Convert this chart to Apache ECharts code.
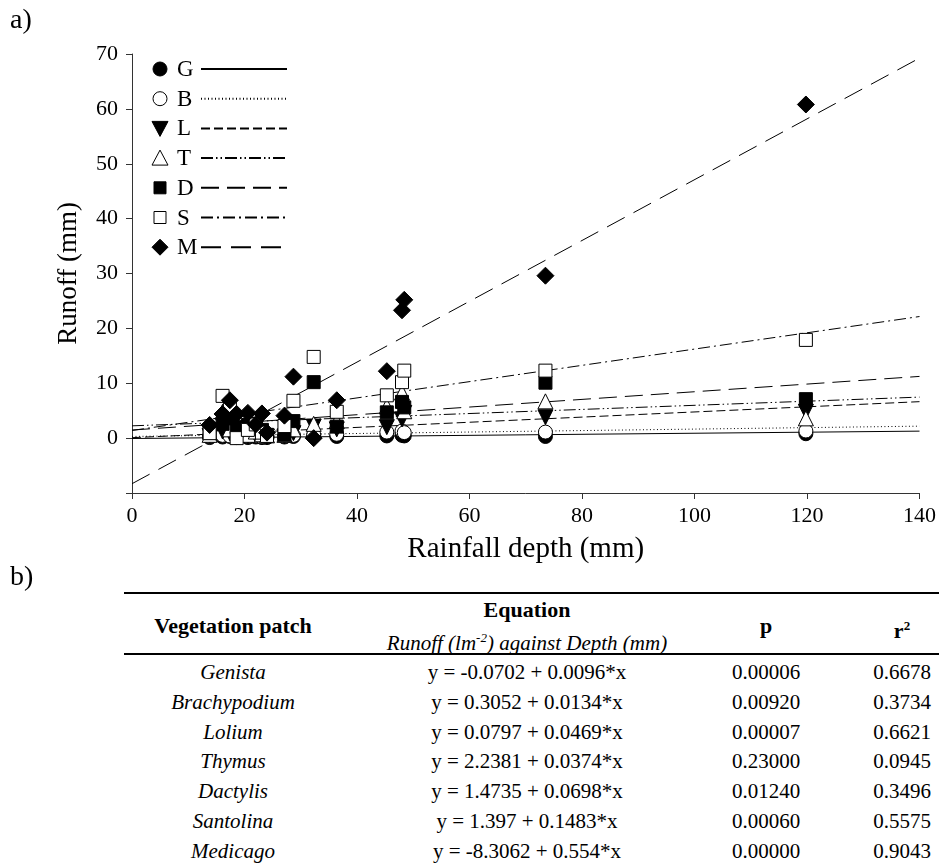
<!DOCTYPE html>
<html>
<head>
<meta charset="utf-8">
<script src="https://cdn.jsdelivr.net/npm/echarts@6/dist/echarts.min.js"></script>
<style>
  html, body { margin: 0; padding: 0; background: #fff; }
  #page { position: relative; width: 939px; height: 865px; overflow: hidden; font-family: "Liberation Serif", "Times New Roman", serif; color: #000; }
  #chart { position: absolute; left: 0; top: 0; width: 939px; height: 575px; }
  .cell { position: absolute; width: 340px; text-align: center; font-size: 20px; line-height: 24px; white-space: nowrap; }
  .rule { position: absolute; background: #000; }
  .panel { position: absolute; left: 10px; font-size: 28px; line-height: 30px; }
</style>
</head>
<body>
<div id="page">
  <div id="chart"></div>
  <div id="table"></div>
</div>
<script>
// Rainfall events (mm) and runoff (mm) per vegetation patch
const rainfall  = [13.8, 16.1, 17.4, 18.6, 20.6, 22.0, 23.1, 24.0, 27.1, 28.7, 32.3, 36.4, 45.3, 48.0, 48.4, 73.5, 119.8];
const genista   = [0.1, 0.2, 0.3, 0.1, 0.1, 0.2, 0.1, 0.1, 0.2, 0.3, 0.4, 0.3, 0.4, 0.5, 0.4, 0.3, 0.8];
const brachy    = [0.3, 0.5, 0.4, 0.2, 0.3, 0.4, 0.2, 0.3, 0.3, 0.5, 0.6, 0.7, 1.1, 1.3, 1.0, 1.1, 1.3];
const lolium    = [0.4, 1.2, 0.9, 0.5, 0.3, 0.8, 0.4, 0.3, 0.3, 0.9, 2.1, 1.6, 2.0, 3.4, 4.6, 3.8, 4.8];
const thymus    = [0.6, 4.8, 1.6, 1.0, 0.6, 1.2, 0.7, 0.5, 0.6, 1.6, 2.6, 3.1, 5.8, 8.3, 4.9, 6.7, 3.6];
const dactylis  = [1.0, 2.6, 3.6, 2.0, 2.4, 2.6, 1.5, 0.6, 0.6, 3.1, 10.2, 2.1, 4.7, 6.6, 5.6, 10.1, 7.1];
const santolina = [0.9, 7.7, 5.4, 0.0, 1.5, 2.5, 1.0, 0.4, 2.2, 6.8, 14.8, 4.8, 7.8, 10.2, 12.3, 12.3, 17.9];
const medicago  = [2.4, 4.4, 6.9, 4.4, 4.6, 2.5, 4.5, 1.0, 4.1, 11.2, 0.0, 6.9, 12.2, 23.3, 25.2, 29.6, 60.8];

// Regression table
const codes      = ['G', 'B', 'L', 'T', 'D', 'S', 'M'];
const patches    = ['Genista', 'Brachypodium', 'Lolium', 'Thymus', 'Dactylis', 'Santolina', 'Medicago'];
const intercepts = [-0.0702, 0.3052, 0.0797, 2.2381, 1.4735, 1.397, -8.3062];
const slopes     = [0.0096, 0.0134, 0.0469, 0.0374, 0.0698, 0.1483, 0.554];
const pValues    = ['0.00006', '0.00920', '0.00007', '0.23000', '0.01240', '0.00060', '0.00000'];
const r2Values   = [0.6678, 0.3734, 0.6621, 0.0945, 0.3496, 0.5575, 0.9043];

// Axis ticks
const xTicks = [0, 20, 40, 60, 80, 100, 120, 140];
const yTicks = [-10, 0, 10, 20, 30, 40, 50, 60, 70];

const runoff = [genista, brachy, lolium, thymus, dactylis, santolina, medicago];

// Marker and trend-line appearance for each patch
const styles = [
  { symbol: 'circle',   size: 14, rotate: 0,   filled: true,  dash: 'solid' },
  { symbol: 'circle',   size: 14, rotate: 0,   filled: false, dash: [1, 2.5] },
  { symbol: 'triangle', size: 15, rotate: 180, filled: true,  dash: [9, 4] },
  { symbol: 'triangle', size: 15, rotate: 0,   filled: false, dash: [12, 3, 1.5, 3, 1.5, 3] },
  { symbol: 'rect',     size: 13, rotate: 0,   filled: true,  dash: [18, 8] },
  { symbol: 'rect',     size: 13, rotate: 0,   filled: false, dash: [12, 4, 2, 4] },
  { symbol: 'diamond',  size: 17, rotate: 0,   filled: true,  dash: [20, 10] }
];

const FONT = '"Liberation Serif", "Times New Roman", serif';
const xMin = xTicks[0], xMax = xTicks[xTicks.length - 1];

const series = [];
codes.forEach((c, i) => {
  const a = intercepts[i], b = slopes[i];
  series.push({
    name: c + ' fit',
    type: 'line',
    data: [[xMin, a], [xMax, a + b * xMax]],
    showSymbol: false,
    symbol: 'none',
    silent: true,
    z: 3,
    lineStyle: { color: '#000', width: 1, type: styles[i].dash }
  });
});
codes.forEach((c, i) => {
  const st = styles[i];
  series.push({
    name: c,
    type: 'scatter',
    data: rainfall.map((d, j) => [d, runoff[i][j]]),
    symbol: st.symbol,
    symbolSize: st.size,
    symbolRotate: st.rotate,
    z: 4 + i,
    itemStyle: { color: st.filled ? '#000' : '#fff', borderColor: '#000', borderWidth: 1, opacity: 1 }
  });
});

// Legend drawn as marker + code + line sample
const graphic = [];
const lgX = 160, lgY0 = 69, lgStep = 29.7;
codes.forEach((c, i) => {
  const st = styles[i];
  const y = lgY0 + lgStep * i;
  const fill = st.filled ? '#000' : '#fff';
  const stroke = { fill: fill, stroke: '#000', lineWidth: 1 };
  if (st.symbol === 'circle') {
    graphic.push({ type: 'circle', shape: { cx: lgX, cy: y, r: 7 }, style: stroke });
  } else if (st.symbol === 'rect') {
    graphic.push({ type: 'rect', shape: { x: lgX - 6, y: y - 6, width: 12, height: 12 }, style: stroke });
  } else if (st.symbol === 'diamond') {
    graphic.push({ type: 'polygon', shape: { points: [[lgX, y - 8], [lgX + 8, y], [lgX, y + 8], [lgX - 8, y]] }, style: stroke });
  } else if (st.rotate === 180) {
    graphic.push({ type: 'polygon', shape: { points: [[lgX - 8, y - 7], [lgX + 8, y - 7], [lgX, y + 8]] }, style: stroke });
  } else {
    graphic.push({ type: 'polygon', shape: { points: [[lgX - 8, y + 7], [lgX + 8, y + 7], [lgX, y - 8]] }, style: stroke });
  }
  graphic.push({
    type: 'text', x: 177, y: y + 1,
    style: { text: c, font: '23px ' + FONT, fill: '#000', verticalAlign: 'middle', align: 'left' }
  });
  graphic.push({
    type: 'line',
    shape: { x1: 201, y1: y, x2: 287, y2: y },
    style: { stroke: '#000', lineWidth: 2, lineDash: st.dash === 'solid' ? null : st.dash }
  });
});

const chart = echarts.init(document.getElementById('chart'), null, { renderer: 'canvas' });
chart.setOption({
  animation: false,
  backgroundColor: '#fff',
  textStyle: { fontFamily: FONT },
  grid: { left: 132, right: 18, top: 54, bottom: 82, containLabel: false },
  xAxis: {
    type: 'value',
    min: xMin, max: xMax, interval: xTicks[1] - xTicks[0],
    name: 'Rainfall depth (mm)',
    nameLocation: 'middle', nameGap: 42,
    nameTextStyle: { fontFamily: FONT, fontSize: 29, color: '#000' },
    axisLine: { onZero: false, lineStyle: { color: '#333', width: 1 } },
    axisTick: { show: true, inside: false, length: 6, lineStyle: { color: '#333' } },
    axisLabel: { fontFamily: FONT, fontSize: 22, color: '#000', margin: 12 },
    splitLine: { show: false }
  },
  yAxis: {
    type: 'value',
    min: yTicks[0], max: yTicks[yTicks.length - 1], interval: yTicks[1] - yTicks[0],
    name: 'Runoff (mm)',
    nameLocation: 'middle', nameGap: 50,
    nameTextStyle: { fontFamily: FONT, fontSize: 27, color: '#000' },
    axisLine: { show: true, onZero: false, lineStyle: { color: '#333', width: 1 } },
    axisTick: { show: true, inside: false, length: 6, lineStyle: { color: '#333' } },
    axisLabel: {
      fontFamily: FONT, fontSize: 22, color: '#000', margin: 14,
      formatter: v => (v === yTicks[0] ? '' : String(v))
    },
    splitLine: { show: false }
  },
  graphic: graphic,
  series: series
});

// Panel labels and the regression table
const page = document.getElementById('page');
const tbl = document.getElementById('table');
function addCell(html, cx, cy, extra) {
  const d = document.createElement('div');
  d.className = 'cell';
  d.style.left = (cx - 170) + 'px';
  d.style.top = (cy - 12) + 'px';
  if (extra) Object.assign(d.style, extra);
  d.innerHTML = html;
  tbl.appendChild(d);
}
function addRule(y, h) {
  const r = document.createElement('div');
  r.className = 'rule';
  r.style.left = '124px'; r.style.width = '815px';
  r.style.top = y + 'px'; r.style.height = h + 'px';
  tbl.appendChild(r);
}
['a)', 'b)'].forEach((t, k) => {
  const d = document.createElement('div');
  d.className = 'panel';
  d.style.top = (k === 0 ? 4 : 561) + 'px';
  d.textContent = t;
  page.appendChild(d);
});

const colX = [233, 527, 766, 902];
const bold = { fontWeight: 'bold', fontSize: '22px' };
addRule(592, 2);
addRule(653, 2);
addCell('Vegetation patch', colX[0], 626, bold);
addCell('Equation', colX[1], 610, bold);
addCell('<i>Runoff (lm<sup style="font-size:13px">-2</sup>) against Depth (mm)</i>', colX[1], 638, { fontSize: '21px' });
addCell('p', colX[2], 626, bold);
addCell('r<sup style="font-size:13px">2</sup>', colX[3], 626, bold);

const rowY0 = 672, rowStep = 29.8;
patches.forEach((name, i) => {
  const y = rowY0 + rowStep * i;
  addCell('<i>' + name + '</i>', colX[0], y, { fontSize: '21px' });
  addCell('y = ' + intercepts[i] + ' + ' + slopes[i] + '*x', colX[1], y, { fontSize: '21px' });
  addCell(pValues[i], colX[2], y, { fontSize: '21px' });
  addCell(r2Values[i].toFixed(4), colX[3], y, { fontSize: '21px' });
});
</script>
</body>
</html>
